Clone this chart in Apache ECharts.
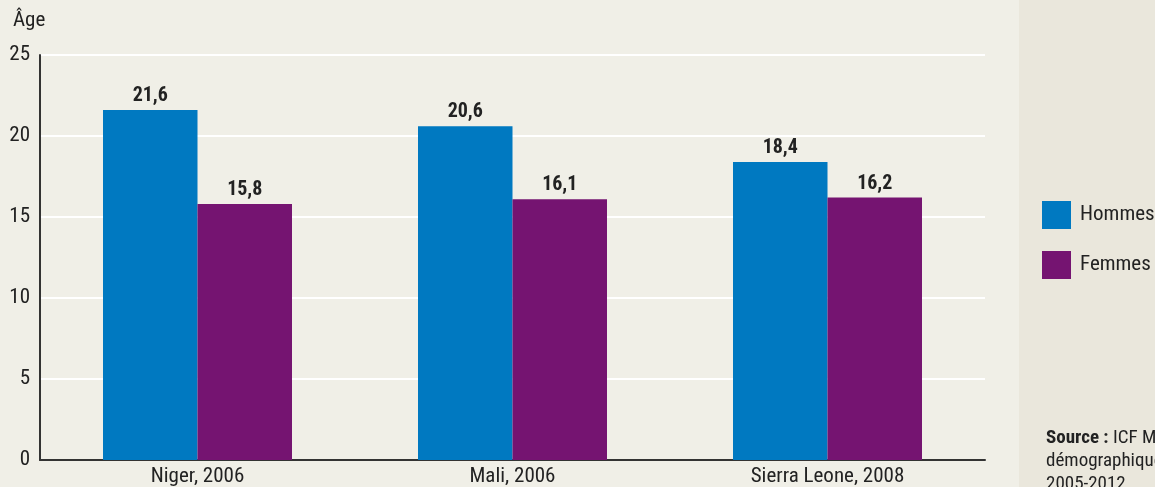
<!DOCTYPE html>
<html>
<head>
<meta charset="utf-8">
<script src="https://cdn.jsdelivr.net/npm/echarts@6/dist/echarts.min.js"></script>
<style>
  html, body { margin: 0; padding: 0; background: #f0efe7; }
  #chart { width: 1155px; height: 487px; }
</style>
</head>
<body>
<div id="chart"></div>
<script>
const categories = ["Niger, 2006", "Mali, 2006", "Sierra Leone, 2008"];
const hommes = [21.6, 20.6, 18.4];
const femmes = [15.8, 16.1, 16.2];
const yTicks = [0, 5, 10, 15, 20, 25];

const FONT = '"Roboto Condensed", "DejaVu Sans Condensed", "Roboto", sans-serif';
const fmt = (p) => String(p.value).replace(".", ",");

const chart = echarts.init(document.getElementById("chart"));

chart.setOption({
  backgroundColor: "#f0efe7",
  textStyle: { fontFamily: FONT },
  grid: { left: 40, right: 170, top: 55, bottom: 27 },
  graphic: [
    // panneau de droite
    { type: "rect", left: 1019, top: 0, z: -1,
      shape: { width: 136, height: 487 }, style: { fill: "#eae7dc" } },
    { type: "text", left: 13, top: 10,
      style: { text: "Âge", font: "21px " + FONT, fill: "#222" } },
    { type: "rect", left: 1042, top: 201,
      shape: { width: 29, height: 28 }, style: { fill: "#0079c1" } },
    { type: "text", left: 1080, top: 204,
      style: { text: "Hommes", font: "21px " + FONT, fill: "#222" } },
    { type: "rect", left: 1042, top: 251,
      shape: { width: 29, height: 28 }, style: { fill: "#751471" } },
    { type: "text", left: 1080, top: 254,
      style: { text: "Femmes", font: "21px " + FONT, fill: "#222" } },
    { type: "text", left: 1046, top: 427,
      style: {
        rich: {
          b: { fontWeight: "bold", fontSize: 19, fontFamily: FONT, fill: "#222" },
          n: { fontSize: 19, fontFamily: FONT, fill: "#222" }
        },
        text: "{b|Source :}{n| ICF Macro, Enquêtes}\n{n|démographiques et de santé,}\n{n|2005-2012.}",
        lineHeight: 23
      } }
  ],
  xAxis: {
    type: "category",
    data: categories,
    axisLine: { lineStyle: { color: "#333", width: 2 } },
    axisTick: { show: false },
    axisLabel: { color: "#222", fontSize: 21, fontFamily: FONT, margin: 6 }
  },
  yAxis: {
    type: "value",
    min: 0, max: 25, interval: 5,
    axisLine: { show: true, lineStyle: { color: "#333", width: 2 } },
    axisTick: { show: false },
    axisLabel: {
      color: "#222", fontSize: 21, fontFamily: FONT, margin: 10,
      formatter: (v) => (yTicks.includes(v) ? String(v) : "")
    },
    splitLine: { lineStyle: { color: "#ffffff", width: 2 } }
  },
  series: [
    {
      name: "Hommes", type: "bar", data: hommes,
      barWidth: "30%", barGap: "0%",
      itemStyle: { color: "#0079c1" },
      label: { show: true, position: "top", formatter: fmt, distance: 4,
        color: "#222", fontWeight: "bold", fontSize: 20, fontFamily: FONT }
    },
    {
      name: "Femmes", type: "bar", data: femmes,
      barWidth: "30%",
      itemStyle: { color: "#751471" },
      label: { show: true, position: "top", formatter: fmt, distance: 4,
        color: "#222", fontWeight: "bold", fontSize: 20, fontFamily: FONT }
    }
  ]
});
</script>
</body>
</html>
